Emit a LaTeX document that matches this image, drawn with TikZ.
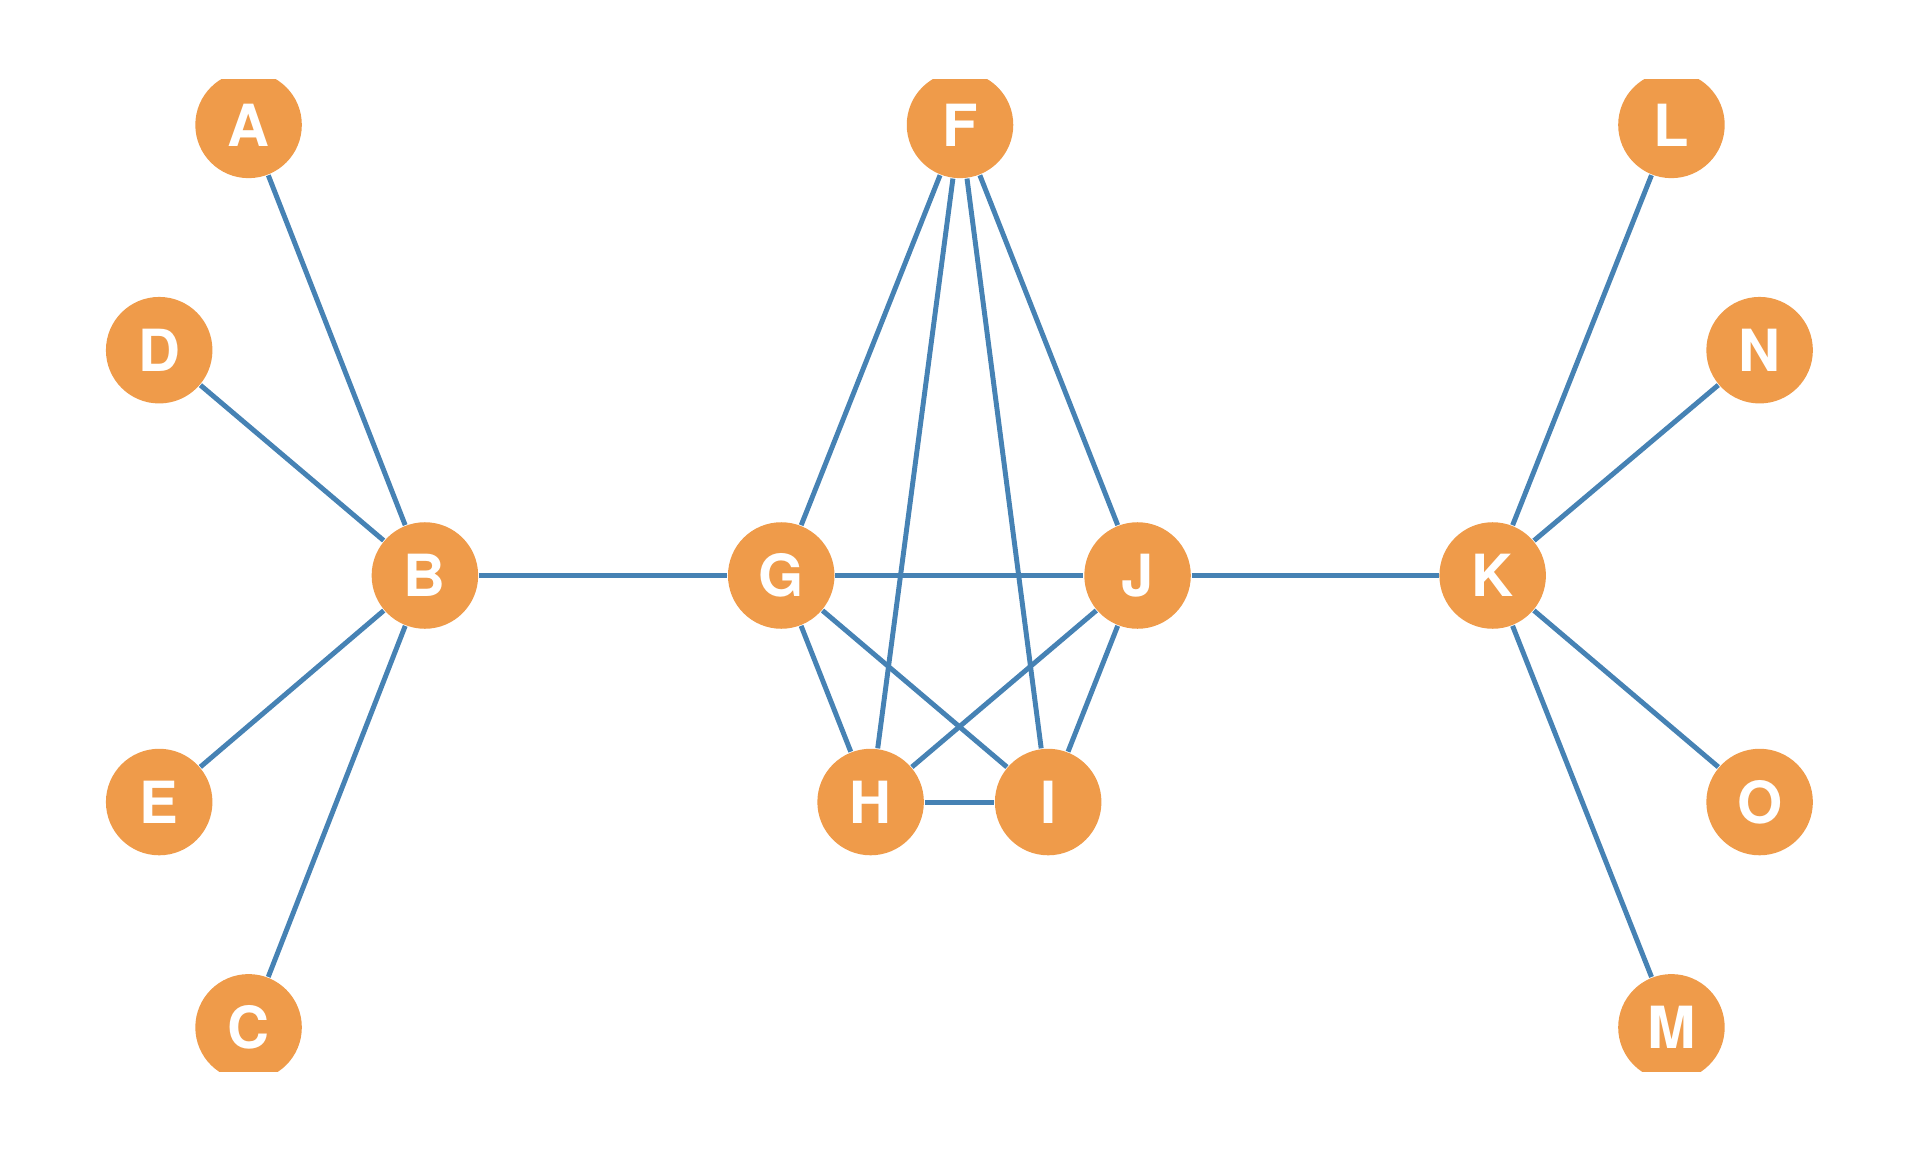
\documentclass[tikz,border=0pt]{standalone}
\usepackage{fontspec}
\setmainfont{TeX Gyre Heros}
\definecolor{nodeorange}{HTML}{EF9B4A}
\definecolor{edgeblue}{HTML}{4682B4}

\begin{document}
\begin{tikzpicture}[
    vertex/.style={circle, fill=nodeorange, draw=none, minimum size=0.87cm, inner sep=0pt,
        text=white, font=\fontsize{13.5}{13.5}\selectfont\bfseries},
    link/.style={draw=edgeblue, line width=1.15pt}
]
    % Fix the page size to the reference proportions
    \useasboundingbox (0,0) rectangle (15.68,9.41);
    \clip (0.65,0.66) rectangle (15.03,8.76);

    % Top row
    \node[vertex] (A) at (2.03,8.39) {A};
    \node[vertex] (F) at (7.84,8.39) {F};
    \node[vertex] (L) at (13.65,8.39) {L};

    % Second row
    \node[vertex] (D) at (1.30,6.55) {D};
    \node[vertex] (N) at (14.37,6.55) {N};

    % Middle row
    \node[vertex] (B) at (3.47,4.71) {B};
    \node[vertex] (G) at (6.38,4.71) {G};
    \node[vertex] (J) at (9.29,4.71) {J};
    \node[vertex] (K) at (12.19,4.71) {K};

    % Fourth row
    \node[vertex] (E) at (1.30,2.86) {E};
    \node[vertex] (H) at (7.11,2.86) {H};
    \node[vertex] (I) at (8.56,2.86) {I};
    \node[vertex] (O) at (14.37,2.86) {O};

    % Bottom row
    \node[vertex] (C) at (2.03,1.02) {C};
    \node[vertex] (M) at (13.65,1.02) {M};

    % Edges of the left star
    \foreach \v in {A,D,E,C} \draw[link] (B) -- (\v);
    % Edges of the right star
    \foreach \v in {L,N,O,M} \draw[link] (K) -- (\v);

    % Horizontal chain
    \draw[link] (B) -- (G);
    \draw[link] (G) -- (J);
    \draw[link] (J) -- (K);

    % Central cluster
    \foreach \v in {G,H,I,J} \draw[link] (F) -- (\v);
    \draw[link] (G) -- (H);
    \draw[link] (G) -- (I);
    \draw[link] (J) -- (H);
    \draw[link] (J) -- (I);
    \draw[link] (H) -- (I);
\end{tikzpicture}
\end{document}
